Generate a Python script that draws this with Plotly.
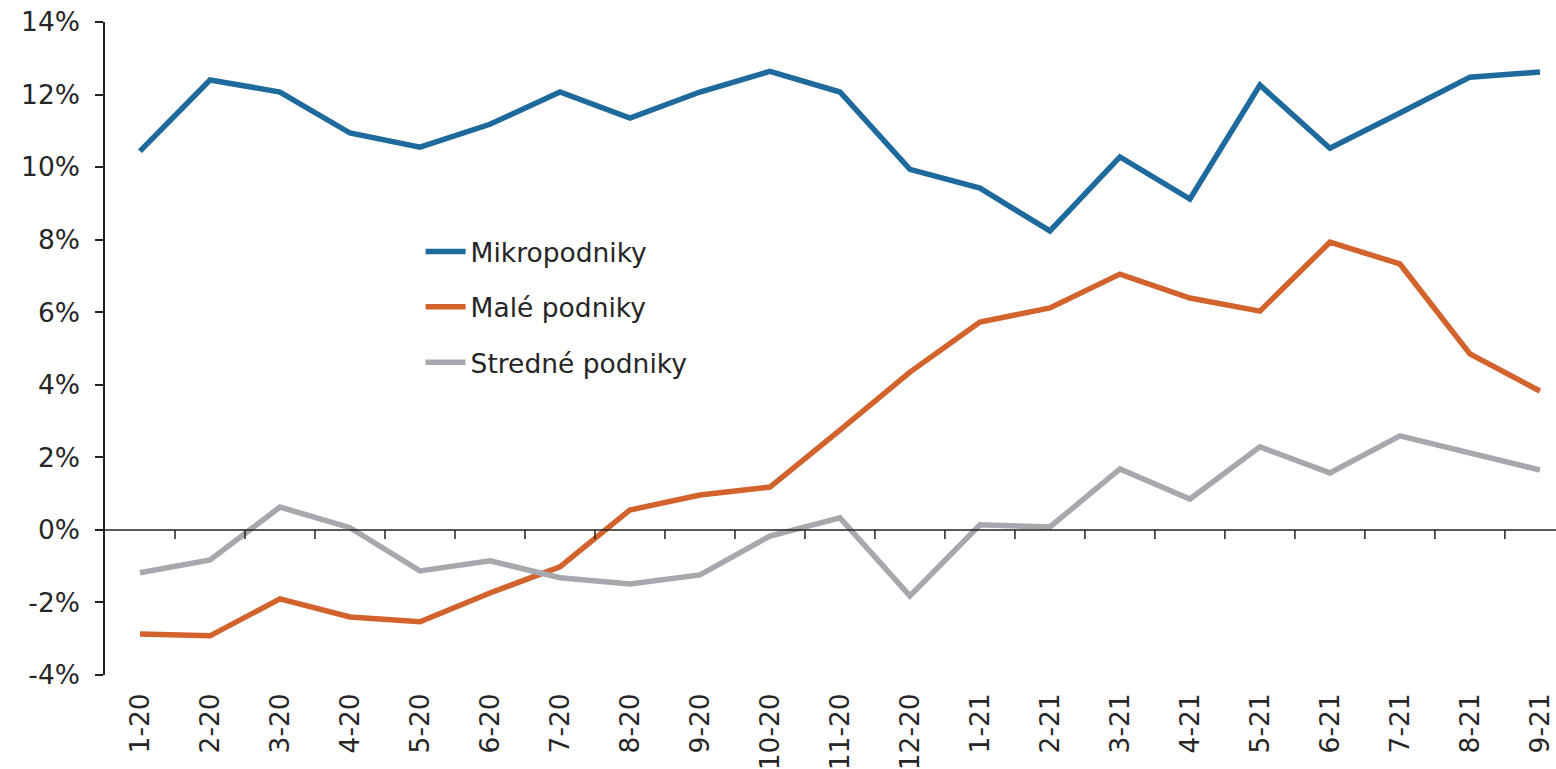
import plotly.graph_objects as go

# Monthly periods (month-year)
periods = ["1-20", "2-20", "3-20", "4-20", "5-20", "6-20", "7-20", "8-20", "9-20",
           "10-20", "11-20", "12-20", "1-21", "2-21", "3-21", "4-21", "5-21",
           "6-21", "7-21", "8-21", "9-21"]

# Year-on-year change, %
mikro = [10.44, 12.40, 12.07, 10.94, 10.55, 11.18, 12.07, 11.35, 12.07, 12.64,
         12.07, 9.94, 9.42, 8.24, 10.28, 9.12, 12.26, 10.52, 11.49, 12.48, 12.62]
male = [-2.87, -2.92, -1.90, -2.40, -2.53, -1.74, -1.02, 0.55, 0.96, 1.18,
        2.75, 4.35, 5.73, 6.12, 7.05, 6.39, 6.03, 7.93, 7.33, 4.85, 3.83]
stredne = [-1.18, -0.83, 0.63, 0.06, -1.13, -0.85, -1.32, -1.49, -1.24, -0.17,
           0.33, -1.82, 0.14, 0.08, 1.68, 0.85, 2.29, 1.57, 2.59, 2.12, 1.65]

y_ticks = [-4, -2, 0, 2, 4, 6, 8, 10, 12, 14]

series = [
    ("Mikropodniky", mikro, "#1f6a9c"),
    ("Malé podniky", male, "#d2632c"),
    ("Stredné podniky", stredne, "#a5a9ad"),
]

FONT = "DejaVu Sans, Verdana, sans-serif"
TEXT = "#262626"
FS = 26.5

fig = go.Figure()
for name, vals, color in series:
    fig.add_trace(go.Scatter(
        x=list(range(len(periods))), y=vals, name=name, mode="lines",
        legendgroup=name,
        line=dict(color=color, width=5.5),
    ))

# zero line with small downward ticks at category boundaries
shapes = [dict(type="line", xref="paper", yref="y", x0=0, x1=1, y0=0, y1=0,
               line=dict(color="#222222", width=1.5))]
for i in range(1, len(periods)):
    shapes.append(dict(type="line", xref="x", yref="y", ysizemode="pixel",
                       yanchor=0, x0=i - 0.5, x1=i - 0.5, y0=0, y1=-9,
                       line=dict(color="#222222", width=1.5)))

fig.update_layout(
    width=1556, height=769,
    margin=dict(l=105, r=0, t=22, b=94),
    paper_bgcolor="white", plot_bgcolor="white",
    font=dict(family=FONT, size=FS, color=TEXT),
    showlegend=True,
    legend=dict(x=0.2175, y=0.685, xanchor="left", yanchor="top",
                bgcolor="rgba(0,0,0,0)", font=dict(size=FS, color=TEXT),
                traceorder="grouped", tracegroupgap=18, itemwidth=40),
    shapes=shapes,
    xaxis=dict(
        range=[-0.5, 20.23], tickmode="array",
        tickvals=list(range(len(periods))), ticktext=periods,
        tickangle=-90, showgrid=False, zeroline=False, showline=False,
        ticks="", ticklabelstandoff=12, tickfont=dict(size=FS, color=TEXT),
    ),
    yaxis=dict(
        range=[-4, 14], tickmode="array", tickvals=y_ticks,
        ticktext=[f"{v}%" for v in y_ticks],
        showgrid=False, zeroline=False, showline=True,
        linecolor="#222222", linewidth=1.5,
        ticks="outside", ticklen=8, tickcolor="#222222", tickwidth=1.5,
        ticklabelstandoff=10, tickfont=dict(size=FS, color=TEXT),
    ),
)

fig.write_html("out.html")
